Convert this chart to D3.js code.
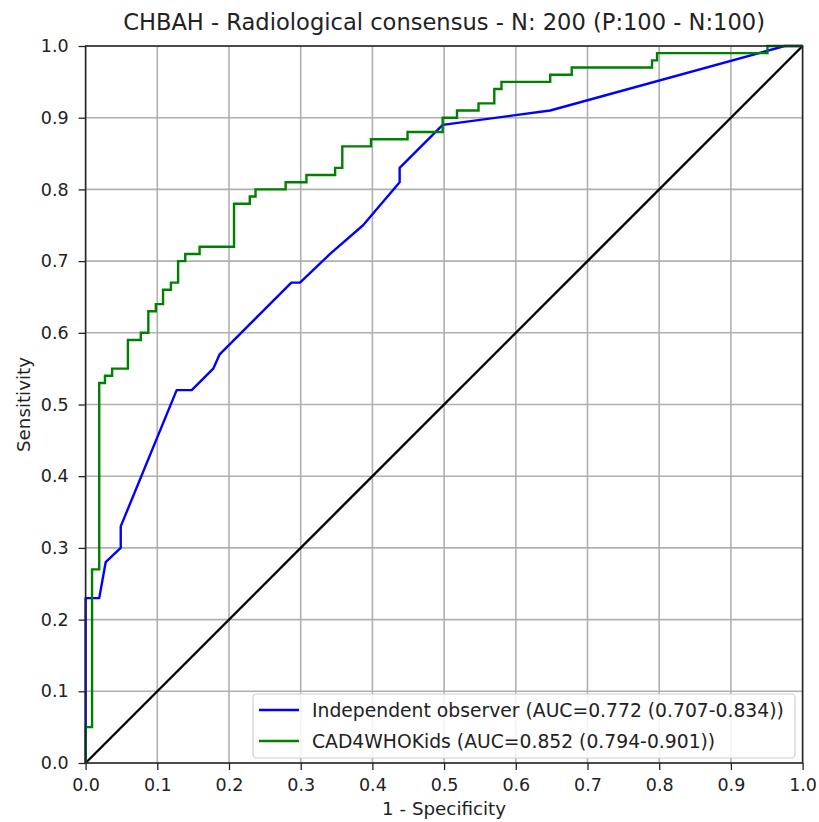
<!DOCTYPE html>
<html>
<head>
<meta charset="utf-8">
<script src="https://cdn.jsdelivr.net/npm/d3@7"></script>
<style>
  body { margin: 0; background: #fff; }
  svg text { font-family: "DejaVu Sans", sans-serif; fill: #222; }
</style>
</head>
<body>
<div id="main_output"></div>
<script>
// ROC points
var cadFpr = [0, 0, 0.009, 0.019, 0.027, 0.037, 0.059, 0.077, 0.0875, 0.098, 0.108, 0.119, 0.129, 0.139, 0.159,
              0.207, 0.229, 0.237, 0.279, 0.308, 0.348, 0.358, 0.398, 0.449, 0.498, 0.518, 0.548, 0.570, 0.580,
              0.648, 0.678, 0.790, 0.797, 0.951, 1.0];
var cadTpr = [0, 0.05, 0.27, 0.53, 0.54, 0.55, 0.59, 0.60, 0.63, 0.64, 0.66, 0.67, 0.70, 0.71, 0.72,
              0.78, 0.79, 0.80, 0.81, 0.82, 0.83, 0.86, 0.87, 0.88, 0.90, 0.91, 0.92, 0.94, 0.95,
              0.96, 0.97, 0.98, 0.99, 1.0, 1.0];

var obsFpr = [0, 0, 0.019, 0.028, 0.049, 0.049, 0.127, 0.148, 0.178, 0.187, 0.287, 0.299, 0.341, 0.387,
              0.438, 0.438, 0.498, 0.648, 0.975, 1.0];
var obsTpr = [0, 0.23, 0.23, 0.28, 0.30, 0.33, 0.52, 0.52, 0.55, 0.57, 0.67, 0.67, 0.71, 0.75,
              0.81, 0.83, 0.89, 0.91, 1.0, 1.0];

var chanceLine = [0, 1];
var tickValues = [0, 0.1, 0.2, 0.3, 0.4, 0.5, 0.6, 0.7, 0.8, 0.9, 1.0];

var titleText = "CHBAH - Radiological consensus - N: 200 (P:100 - N:100)";
var legendLabels = ["Independent observer (AUC=0.772 (0.707-0.834))",
                    "CAD4WHOKids (AUC=0.852 (0.794-0.901))"];
var legendColors = ["#0000ff", "#008000"];

var width = 819, height = 822;
var margin = {top: 46, left: 85.6};
var plotW = 717, plotH = 717;

var svg = d3.select("#main_output").append("svg")
  .attr("width", width)
  .attr("height", height);

// scale a text's font so it spans the width seen in the picture
function fitText(sel, base, target) {
  sel.attr("font-size", base + "px");
  var w = sel.node().getComputedTextLength();
  sel.attr("font-size", (base * target / w).toFixed(2) + "px");
}

var x = d3.scaleLinear().domain([0, 1]).range([margin.left, margin.left + plotW]);
var y = d3.scaleLinear().domain([0, 1]).range([margin.top + plotH, margin.top]);

// grid
var grid = svg.append("g");
grid.selectAll(".vgrid").data(tickValues).enter().append("line")
  .attr("x1", d => x(d)).attr("x2", d => x(d))
  .attr("y1", y(0)).attr("y2", y(1))
  .attr("stroke", "#b0b0b0").attr("stroke-width", 1.6);
grid.selectAll(".hgrid").data(tickValues).enter().append("line")
  .attr("y1", d => y(d)).attr("y2", d => y(d))
  .attr("x1", x(0)).attr("x2", x(1))
  .attr("stroke", "#b0b0b0").attr("stroke-width", 1.6);

var plot = svg.append("g");

var lin = d3.line()
  .x(d => x(d[0]))
  .y(d => y(d[1]));

// chance diagonal
plot.append("path")
  .datum(chanceLine.map(v => [v, v]))
  .attr("d", lin)
  .attr("fill", "none").attr("stroke", "#000").attr("stroke-width", 2.4);

// independent observer
plot.append("path")
  .datum(obsFpr.map((v, i) => [v, obsTpr[i]]))
  .attr("d", lin)
  .attr("fill", "none").attr("stroke", legendColors[0]).attr("stroke-width", 2.4)
  .attr("stroke-linejoin", "round");

// CAD4WHOKids step curve
var step = d3.line()
  .x(d => x(d[0]))
  .y(d => y(d[1]))
  .curve(d3.curveStepAfter);

plot.append("path")
  .datum(cadFpr.map((v, i) => [v, cadTpr[i]]))
  .attr("d", step)
  .attr("fill", "none").attr("stroke", legendColors[1]).attr("stroke-width", 2.4);

// axes
var xAxis = d3.axisBottom(x).tickValues(tickValues).tickFormat(d3.format(".1f")).tickSizeOuter(0).tickSize(7).tickPadding(9);
var yAxis = d3.axisLeft(y).tickValues(tickValues).tickFormat(d3.format(".1f")).tickSizeOuter(0).tickSize(7).tickPadding(10);

var gx = svg.append("g")
  .attr("transform", "translate(0," + y(0) + ")")
  .call(xAxis);
var gy = svg.append("g")
  .attr("transform", "translate(" + x(0) + ",0)")
  .call(yAxis);

[gx, gy].forEach(function(g) {
  g.select(".domain").remove();
  g.selectAll(".tick line").attr("stroke", "#222").attr("stroke-width", 1.3);
  g.selectAll(".tick text").attr("font-size", "17.5px").attr("fill", "#222")
    .style("font-family", "DejaVu Sans, sans-serif");
});

// frame
svg.append("rect")
  .attr("x", x(0)).attr("y", y(1))
  .attr("width", plotW).attr("height", plotH)
  .attr("fill", "none").attr("stroke", "#222").attr("stroke-width", 1.5);

// title
var title = svg.append("text")
  .attr("x", x(0.5)).attr("y", 30)
  .attr("text-anchor", "middle")
  .text(titleText);
fitText(title, 18, 642);

// axis labels
var xLabel = svg.append("text")
  .attr("x", x(0.5)).attr("y", 815)
  .attr("text-anchor", "middle")
  .text("1 - Specificity");
fitText(xLabel, 16, 124);

var yLabel = svg.append("text")
  .attr("transform", "translate(30," + y(0.5) + ") rotate(-90)")
  .attr("text-anchor", "middle")
  .text("Sensitivity");
fitText(yLabel, 16, 95);

// legend
var legend = svg.append("g");
legend.append("rect")
  .attr("x", 253).attr("y", 694)
  .attr("width", 542).attr("height", 64)
  .attr("rx", 4)
  .attr("fill", "#fff").attr("fill-opacity", 0.85)
  .attr("stroke", "#d0d0d0").attr("stroke-width", 1.2);

var rows = legend.selectAll(".row").data(legendLabels).enter().append("g")
  .attr("transform", (d, i) => "translate(0," + (710 + i * 31) + ")");
rows.append("line")
  .attr("x1", 259).attr("x2", 299)
  .attr("stroke", (d, i) => legendColors[i]).attr("stroke-width", 2.4);
var rowText = rows.append("text")
  .attr("x", 312).attr("dy", "0.35em")
  .text(d => d);
fitText(d3.select(rowText.nodes()[0]), 16, 472);
rowText.attr("font-size", d3.select(rowText.nodes()[0]).attr("font-size"));
</script>
</body>
</html>
